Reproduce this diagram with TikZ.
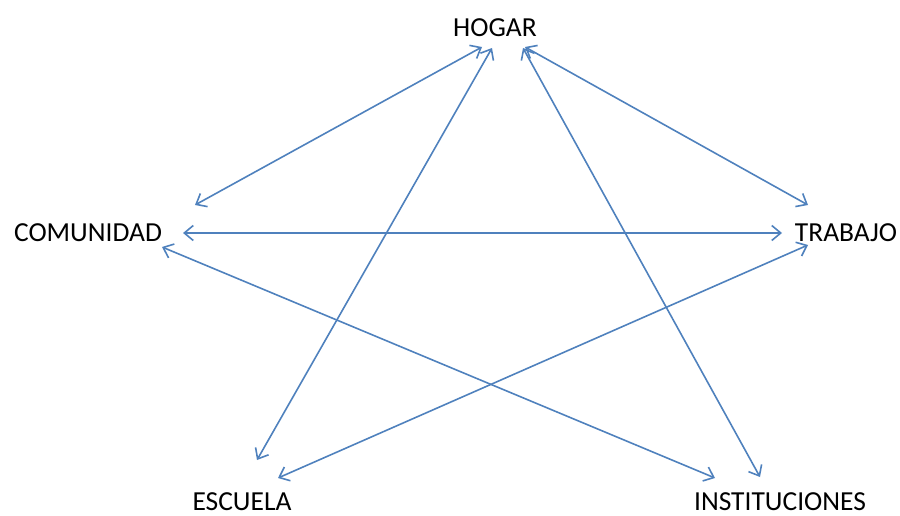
\documentclass[tikz,border=0pt]{standalone}
\usepackage{fontspec}
\setmainfont{Carlito}
\usetikzlibrary{arrows.meta}
\definecolor{linkblue}{RGB}{79,129,189}
\begin{document}
\begin{tikzpicture}[x=1pt,y=-1pt,
  lbl/.style={inner sep=0pt,anchor=center,font=\fontsize{27.5}{33}\selectfont},
  link/.style={draw=linkblue,line width=1.6pt,{Straight Barb[length=9pt,width=15pt]}-{Straight Barb[length=9pt,width=15pt]}}]
\path[use as bounding box] (0,0) rectangle (900,516);
\node[lbl] (hogar) at (495,28) {HOGAR};
\node[lbl] (comunidad) at (88,233) {COMUNIDAD};
\node[lbl] (trabajo) at (846,233) {TRABAJO};
\node[lbl] (escuela) at (242,502) {ESCUELA};
\node[lbl] (inst) at (780,502) {INSTITUCIONES};
\draw[link] ([shift={(-13,19)}]hogar.center) -- ([shift={(107,-28)}]comunidad.center);
\draw[link] ([shift={(-3,20)}]hogar.center) -- ([shift={(15,-42)}]escuela.center);
\draw[link] ([shift={(28,20)}]hogar.center) -- ([shift={(-20,-25)}]inst.center);
\draw[link] ([shift={(30,19)}]hogar.center) -- ([shift={(-38,-28)}]trabajo.center);
\draw[link] ([shift={(95,0)}]comunidad.center) -- ([shift={(-64,0)}]trabajo.center);
\draw[link] ([shift={(74,14)}]comunidad.center) -- ([shift={(-65,-24)}]inst.center);
\draw[link] ([shift={(-38,12)}]trabajo.center) -- ([shift={(36,-24)}]escuela.center);
\end{tikzpicture}
\end{document}
